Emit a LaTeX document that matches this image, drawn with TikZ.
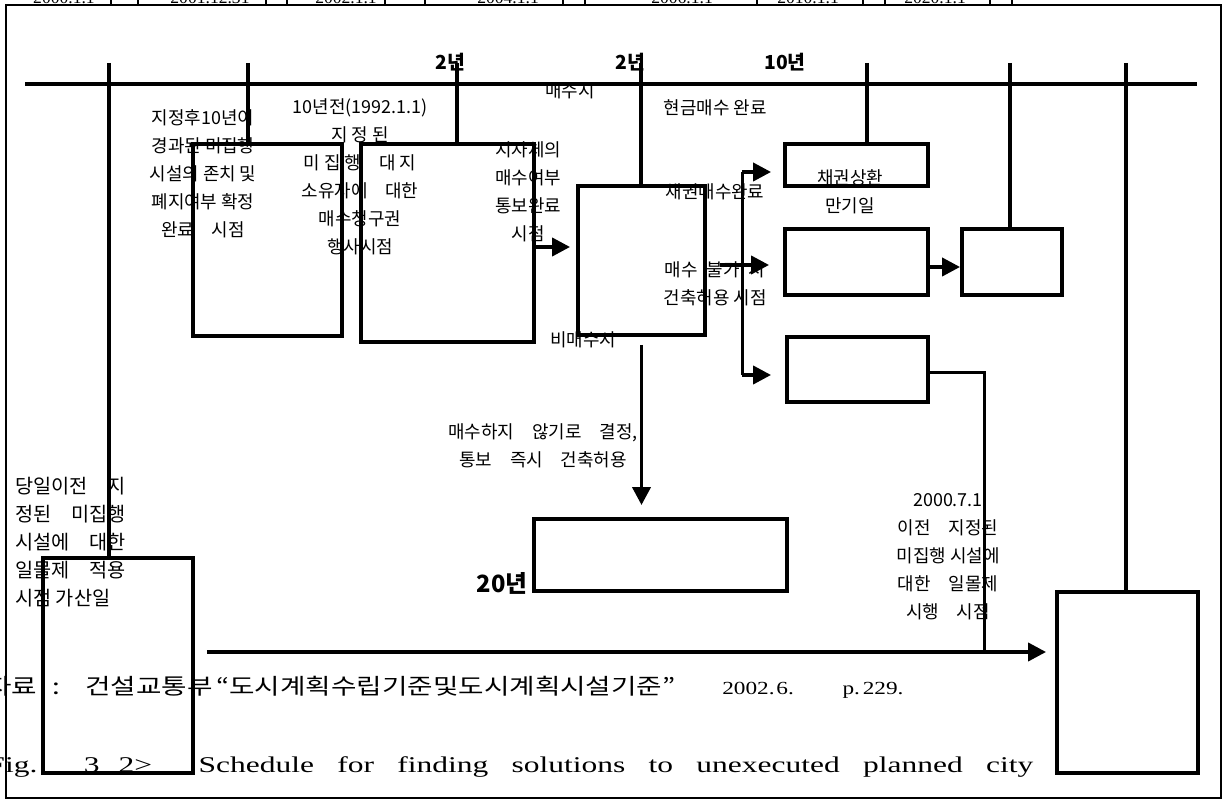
\documentclass[tikz,border=0pt]{standalone}
\usepackage{fontspec}
\setmainfont{Liberation Serif}
\newfontfamily\kr{Noto Sans CJK KR}
\usetikzlibrary{arrows.meta}

\begin{document}
\begin{tikzpicture}[>={Triangle[length=3.6mm,width=3.6mm]},line join=miter,
  bar/.style={line width=2.2pt},
  arr/.style={->,line width=2.2pt},
  box/.style={draw,line width=2.2pt,inner sep=0pt},
  lbl/.style={font=\kr\fontsize{10.2}{15.9}\selectfont,align=center,inner sep=0pt},
  yr/.style={font=\kr\bfseries\fontsize{11}{13}\selectfont,inner sep=0pt}]
\useasboundingbox (0,0) rectangle (24.46,16);
\foreach \x in {2.22,2.76,5.32,5.74,7.7,8.5,11.26,11.7,15.14,17.26,17.7,19.8,20.24}
  \draw[line width=0.6pt] (\x,16.2) -- (\x,15.9);
\foreach \x/\t/\n in {1.28/2000.1.1/d1,2.44/\textasciitilde/d2,4.2/2001.12.31/d3,6.92/2002.1.1/d4,
  10.3/2004.1.1 \textasciitilde/d5,13.78/2006.1.1 \textasciitilde/d6,16.3/2010.1.1 \textasciitilde/d7,
  18.84/2020.1.1 \textasciitilde/d8}
  \node[name=\n,anchor=base,inner sep=0pt,font=\fontsize{10}{12}\selectfont] at (\x,15.92) {\t};
\draw[line width=1.1pt] (0.12,0.04) rectangle (24.42,15.9);

\node[lbl] (t1) at (4.06,12.52) {지정후10년이\\경과된 미집행\\시설의 존치 및\\폐지여부 확정\\완료\quad 시점};
\node[lbl] (t2) at (7.2,12.46) {10년전(1992.1.1)\\지 정 된\\미 집 행\quad 대 지\\소유자에\quad 대한\\매수청구권\\행사시점};
\node[yr] (y1) at (9.0,14.76) {2년};
\node[yr] (y2) at (12.6,14.76) {2년};
\node[yr] (y3) at (15.7,14.76) {10년};
\begin{scope}
\clip (10.4,14.26) rectangle (12.4,13.8);
\node[lbl] (t4) at (11.4,14.19) {매수시};
\end{scope}
\node[lbl] (t5) at (14.3,13.84) {현금매수 완료};
\node[lbl] (t6) at (10.56,12.17) {지자체의\\매수여부\\통보완료\\시점};
\node[lbl] (t7) at (14.3,12.16) {채권매수완료};
\node[lbl] (t8) at (14.3,10.32) {매수\enspace 불가\enspace 시\\건축허용 시점};
\node[lbl] (t9) at (17.0,12.16) {채권상환\\만기일};
\node[lbl] (t10) at (11.66,9.2) {비매수시};
\node[lbl] (t11) at (10.86,7.08) {매수하지\quad 않기로\quad 결정,\\통보\quad 즉시\quad 건축허용};
\node[yr,font=\kr\bfseries\fontsize{13.5}{15}\selectfont] (y4) at (10.04,4.34) {20년};
\node[lbl] (t13) at (18.96,4.86) {2000.7.1\\이전\quad 지정된\\미집행 시설에\\대한\quad 일몰제\\시행\quad 시점};
\node[lbl,font=\kr\fontsize{11.2}{15.9}\selectfont,align=left,anchor=west] (t14) at (0.3,5.15)
  {당일이전\quad 지\\정된\quad 미집행\\시설에\quad 대한\\일몰제\quad 적용\\시점 가산일};
\node[anchor=base west,inner sep=0pt,xscale=1.26,font=\kr\fontsize{12.5}{14}\selectfont] (src) at (-0.28,2.1)
  {\makebox[1.05cm][l]{자료}\makebox[0.52cm][l]{:}\makebox[2.08cm][l]{건설교통부}%
   \makebox[8.03cm][l]{“도시계획수립기준및도시계획시설기준”}\rmfamily\fontsize{10.5}{14}\selectfont
   \makebox[0.86cm][l]{2002.}\makebox[1.05cm][l]{6.}\makebox[0.32cm][l]{p.}229.};
\node[anchor=base west,inner sep=0pt,xscale=1.4,font=\fontsize{12.8}{14}\selectfont] (cap) at (-0.26,0.54)
  {\makebox[14.94cm][s]{Fig.\ \ 3\hspace{0.6em}2>\ \ Schedule for finding solutions to unexecuted planned city}};

\node[box,minimum width=2.98cm,minimum height=3.84cm] (b1) at (5.35,11.2) {};
\node[box,minimum width=3.46cm,minimum height=3.96cm] (b2) at (8.95,11.14) {};
\node[box,minimum width=2.54cm,minimum height=2.98cm] (b3) at (12.83,10.79) {};
\node[box,minimum width=2.86cm,minimum height=0.84cm] (b4) at (17.13,12.7) {};
\node[box,minimum width=2.86cm,minimum height=1.32cm] (b5) at (17.13,10.76) {};
\node[box,minimum width=2.0cm,minimum height=1.32cm] (b6) at (20.24,10.76) {};
\node[box,minimum width=2.82cm,minimum height=1.3cm] (b7) at (17.15,8.61) {};
\node[box,minimum width=2.82cm,minimum height=3.62cm] (b8) at (22.55,2.35) {};
\node[box,minimum width=3.0cm,minimum height=4.3cm] (b9) at (2.36,2.69) {};
\node[box,minimum width=5.06cm,minimum height=1.44cm] (b10) at (13.21,4.9) {};

\coordinate (tl-w) at (0.5,14.32);
\coordinate (tl-e) at (23.94,14.32);
\draw[bar] (tl-w) -- (tl-e);
\foreach \x/\b in {2.18/b9,4.96/b1,9.14/b2,12.82/b3,17.34/b4,20.2/b6,22.52/b8}
  \draw[bar] (\x,14.74) -- (\b.north -| \x,0);

\coordinate (br-top) at (14.84,12.56);
\coordinate (br-bot) at (14.84,8.5);
\coordinate (j) at (19.68,2.96);
\draw[arr] ([yshift=-0.8mm]b2.east) -- ([xshift=-1.2mm,yshift=-0.8mm]b3.west |- b2.east);
\draw[line width=1.7pt] (br-top) -- (br-bot);
\draw[arr] (br-top) -- ([xshift=-2.4mm]b4.west |- br-top);
\draw[arr] ([xshift=2.6mm,yshift=-0.6mm]b3.east |- b5.west) -- ([xshift=-2.8mm,yshift=-0.6mm]b5.west);
\draw[arr] (br-bot) -- ([xshift=-2.8mm]b7.west |- br-bot);
\draw[arr] ([yshift=-1mm]b5.east) -- ([yshift=-1mm]b6.west);
\draw[arr] ([yshift=-1.6mm]b3.south) -- ([yshift=2.4mm]b10.north -| b3.south);
\draw[line width=1.7pt] ([yshift=-0.6mm]b7.east) -| (j);
\draw[arr] ([xshift=2.4mm]b9.east |- j) -- ([xshift=-1.8mm]b8.west |- j);
\end{tikzpicture}
\end{document}
